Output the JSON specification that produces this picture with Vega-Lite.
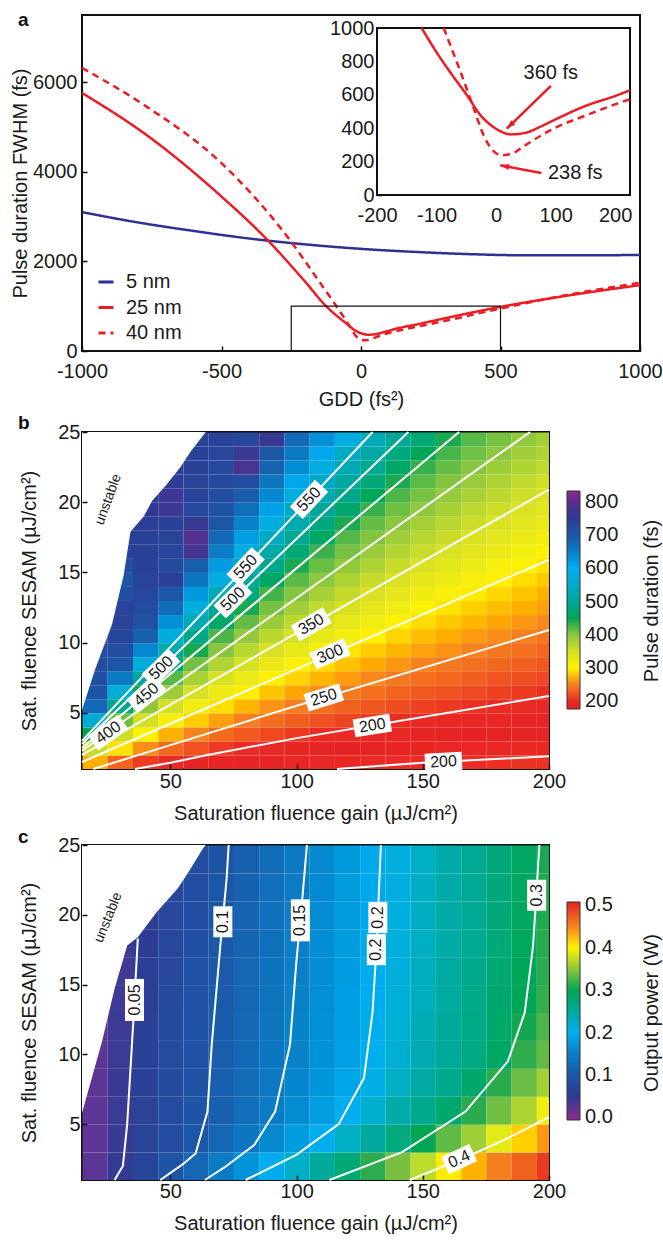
{
"$schema": "https://vega.github.io/schema/vega-lite/v6.json",
"padding": {"left": 9, "top": 10, "right": 2, "bottom": 0},
"spacing": 3,
"config": {
  "font": "Liberation Sans",
  "view": {"stroke": "#111", "strokeWidth": 2},
  "axis": {"labelFont": "Liberation Sans", "labelFontSize": 20, "labelColor": "#1a1a1a", "titleFont": "Liberation Sans", "titleFontSize": 20, "titleFontWeight": "normal", "titleColor": "#1a1a1a", "tickColor": "#111", "tickSize": -5, "tickWidth": 1.5, "domain": false, "grid": false, "labelFlush": false, "labelOverlap": false},
  "legend": {"labelFont": "Liberation Sans", "labelFontSize": 20, "labelColor": "#1a1a1a"},
  "title": {"font": "Liberation Sans", "fontSize": 19, "fontWeight": "bold", "anchor": "start", "frame": "group", "dx": -64, "baseline": "alphabetic", "color": "#111"}
},
"resolve": {"scale": {"color": "independent", "strokeDash": "independent"}, "legend": {"color": "independent", "strokeDash": "independent"}},
"datasets": {
  "curves": [
    {"gdd": -1000, "fwhm": 3100, "width": "5 nm"}, {"gdd": -800, "fwhm": 2870, "width": "5 nm"}, {"gdd": -600, "fwhm": 2680, "width": "5 nm"}, {"gdd": -400, "fwhm": 2510, "width": "5 nm"}, {"gdd": -200, "fwhm": 2380, "width": "5 nm"}, {"gdd": 0, "fwhm": 2280, "width": "5 nm"}, {"gdd": 200, "fwhm": 2210, "width": "5 nm"}, {"gdd": 400, "fwhm": 2160, "width": "5 nm"}, {"gdd": 600, "fwhm": 2135, "width": "5 nm"}, {"gdd": 800, "fwhm": 2135, "width": "5 nm"}, {"gdd": 1000, "fwhm": 2145, "width": "5 nm"},
    {"gdd": -1000, "fwhm": 5760, "width": "25 nm"}, {"gdd": -770, "fwhm": 4827, "width": "25 nm"}, {"gdd": -500, "fwhm": 3447, "width": "25 nm"}, {"gdd": -335, "fwhm": 2477, "width": "25 nm"}, {"gdd": -200, "fwhm": 1545, "width": "25 nm"}, {"gdd": -125, "fwhm": 1000, "width": "25 nm"}, {"gdd": -100, "fwhm": 855, "width": "25 nm"}, {"gdd": -75, "fwhm": 725, "width": "25 nm"}, {"gdd": -50, "fwhm": 603, "width": "25 nm"}, {"gdd": -25, "fwhm": 473, "width": "25 nm"}, {"gdd": 0, "fwhm": 397, "width": "25 nm"}, {"gdd": 25, "fwhm": 363, "width": "25 nm"}, {"gdd": 50, "fwhm": 373, "width": "25 nm"}, {"gdd": 75, "fwhm": 410, "width": "25 nm"}, {"gdd": 100, "fwhm": 453, "width": "25 nm"}, {"gdd": 150, "fwhm": 533, "width": "25 nm"}, {"gdd": 200, "fwhm": 593, "width": "25 nm"}, {"gdd": 225, "fwhm": 627, "width": "25 nm"}, {"gdd": 500, "fwhm": 985, "width": "25 nm"}, {"gdd": 750, "fwhm": 1246, "width": "25 nm"}, {"gdd": 1000, "fwhm": 1470, "width": "25 nm"},
    {"gdd": -1000, "fwhm": 6319, "width": "40 nm"}, {"gdd": -770, "fwhm": 5461, "width": "40 nm"}, {"gdd": -500, "fwhm": 4193, "width": "40 nm"}, {"gdd": -255, "fwhm": 2477, "width": "40 nm"}, {"gdd": -150, "fwhm": 1553, "width": "40 nm"}, {"gdd": -88, "fwhm": 1000, "width": "40 nm"}, {"gdd": -75, "fwhm": 880, "width": "40 nm"}, {"gdd": -60, "fwhm": 740, "width": "40 nm"}, {"gdd": -40, "fwhm": 545, "width": "40 nm"}, {"gdd": -20, "fwhm": 350, "width": "40 nm"}, {"gdd": 0, "fwhm": 250, "width": "40 nm"}, {"gdd": 10, "fwhm": 238, "width": "40 nm"}, {"gdd": 25, "fwhm": 245, "width": "40 nm"}, {"gdd": 50, "fwhm": 300, "width": "40 nm"}, {"gdd": 75, "fwhm": 355, "width": "40 nm"}, {"gdd": 100, "fwhm": 403, "width": "40 nm"}, {"gdd": 150, "fwhm": 475, "width": "40 nm"}, {"gdd": 200, "fwhm": 543, "width": "40 nm"}, {"gdd": 225, "fwhm": 573, "width": "40 nm"}, {"gdd": 500, "fwhm": 947, "width": "40 nm"}, {"gdd": 750, "fwhm": 1265, "width": "40 nm"}, {"gdd": 1000, "fwhm": 1522, "width": "40 nm"}
  ],
  "arrows": [
    {"id": 1, "gdd": 92, "fwhm": 653, "gdd2": 18, "fwhm2": 397},
    {"id": 2, "gdd": 76, "fwhm": 132, "gdd2": 7, "fwhm2": 178}
  ],
  "notes": [
    {"t": "360 fs", "gdd": 92, "fwhm": 730},
    {"t": "238 fs", "gdd": 133, "fwhm": 133}
  ],
  "cellsB": [
    {"x":15,"y":1,"v":271},{"x":15,"y":2,"v":359},{"x":15,"y":3,"v":450},{"x":15,"y":4,"v":564},{"x":15,"y":5,"v":678},{"x":15,"y":6,"v":705},{"x":15,"y":7,"v":715},{"x":15,"y":8,"v":720},{"x":15,"y":9,"v":720},{"x":15,"y":10,"v":720},
    {"x":25,"y":1,"v":231},{"x":25,"y":2,"v":293},{"x":25,"y":3,"v":353},{"x":25,"y":4,"v":416},{"x":25,"y":5,"v":485},{"x":25,"y":6,"v":569},{"x":25,"y":7,"v":655},{"x":25,"y":8,"v":705},{"x":25,"y":9,"v":722},{"x":25,"y":10,"v":731},{"x":25,"y":11,"v":739},{"x":25,"y":12,"v":735},{"x":25,"y":13,"v":715},{"x":25,"y":14,"v":705},{"x":25,"y":15,"v":720},{"x":25,"y":16,"v":735},{"x":25,"y":17,"v":740},{"x":25,"y":18,"v":740},
    {"x":35,"y":1,"v":208},{"x":35,"y":2,"v":257},{"x":35,"y":3,"v":304},{"x":35,"y":4,"v":350},{"x":35,"y":5,"v":398},{"x":35,"y":6,"v":448},{"x":35,"y":7,"v":504},{"x":35,"y":8,"v":572},{"x":35,"y":9,"v":640},{"x":35,"y":10,"v":688},{"x":35,"y":11,"v":712},{"x":35,"y":12,"v":723},{"x":35,"y":13,"v":730},{"x":35,"y":14,"v":736},{"x":35,"y":15,"v":740},{"x":35,"y":16,"v":740},{"x":35,"y":17,"v":740},{"x":35,"y":18,"v":745},{"x":35,"y":19,"v":750},{"x":35,"y":20,"v":745},
    {"x":45,"y":1,"v":197},{"x":45,"y":2,"v":234},{"x":45,"y":3,"v":273},{"x":45,"y":4,"v":311},{"x":45,"y":5,"v":349},{"x":45,"y":6,"v":387},{"x":45,"y":7,"v":427},{"x":45,"y":8,"v":470},{"x":45,"y":9,"v":516},{"x":45,"y":10,"v":573},{"x":45,"y":11,"v":630},{"x":45,"y":12,"v":672},{"x":45,"y":13,"v":703},{"x":45,"y":14,"v":745},{"x":45,"y":15,"v":724},{"x":45,"y":16,"v":729},{"x":45,"y":17,"v":734},{"x":45,"y":18,"v":740},{"x":45,"y":19,"v":765},{"x":45,"y":20,"v":765},{"x":45,"y":21,"v":745},{"x":45,"y":22,"v":740},
    {"x":55,"y":1,"v":191},{"x":55,"y":2,"v":219},{"x":55,"y":3,"v":252},{"x":55,"y":4,"v":284},{"x":55,"y":5,"v":316},{"x":55,"y":6,"v":347},{"x":55,"y":7,"v":380},{"x":55,"y":8,"v":413},{"x":55,"y":9,"v":447},{"x":55,"y":10,"v":485},{"x":55,"y":11,"v":525},{"x":55,"y":12,"v":575},{"x":55,"y":13,"v":623},{"x":55,"y":14,"v":660},{"x":55,"y":15,"v":692},{"x":55,"y":16,"v":775},{"x":55,"y":17,"v":790},{"x":55,"y":18,"v":760},{"x":55,"y":19,"v":728},{"x":55,"y":20,"v":733},{"x":55,"y":21,"v":737},{"x":55,"y":22,"v":740},{"x":55,"y":23,"v":740},{"x":55,"y":24,"v":740},
    {"x":65,"y":1,"v":187},{"x":65,"y":2,"v":207},{"x":65,"y":3,"v":236},{"x":65,"y":4,"v":264},{"x":65,"y":5,"v":292},{"x":65,"y":6,"v":319},{"x":65,"y":7,"v":346},{"x":65,"y":8,"v":374},{"x":65,"y":9,"v":402},{"x":65,"y":10,"v":432},{"x":65,"y":11,"v":463},{"x":65,"y":12,"v":496},{"x":65,"y":13,"v":531},{"x":65,"y":14,"v":575},{"x":65,"y":15,"v":618},{"x":65,"y":16,"v":652},{"x":65,"y":17,"v":679},{"x":65,"y":18,"v":702},{"x":65,"y":19,"v":711},{"x":65,"y":20,"v":720},{"x":65,"y":21,"v":724},{"x":65,"y":22,"v":728},{"x":65,"y":23,"v":732},{"x":65,"y":24,"v":736},
    {"x":75,"y":1,"v":189},{"x":75,"y":2,"v":199},{"x":75,"y":3,"v":224},{"x":75,"y":4,"v":249},{"x":75,"y":5,"v":274},{"x":75,"y":6,"v":298},{"x":75,"y":7,"v":322},{"x":75,"y":8,"v":346},{"x":75,"y":9,"v":370},{"x":75,"y":10,"v":395},{"x":75,"y":11,"v":421},{"x":75,"y":12,"v":447},{"x":75,"y":13,"v":475},{"x":75,"y":14,"v":504},{"x":75,"y":15,"v":536},{"x":75,"y":16,"v":576},{"x":75,"y":17,"v":615},{"x":75,"y":18,"v":645},{"x":75,"y":19,"v":670},{"x":75,"y":20,"v":694},{"x":75,"y":21,"v":720},{"x":75,"y":22,"v":780},{"x":75,"y":23,"v":765},{"x":75,"y":24,"v":730},
    {"x":85,"y":1,"v":191},{"x":85,"y":2,"v":195},{"x":85,"y":3,"v":214},{"x":85,"y":4,"v":237},{"x":85,"y":5,"v":259},{"x":85,"y":6,"v":281},{"x":85,"y":7,"v":302},{"x":85,"y":8,"v":324},{"x":85,"y":9,"v":345},{"x":85,"y":10,"v":367},{"x":85,"y":11,"v":389},{"x":85,"y":12,"v":412},{"x":85,"y":13,"v":435},{"x":85,"y":14,"v":459},{"x":85,"y":15,"v":485},{"x":85,"y":16,"v":512},{"x":85,"y":17,"v":540},{"x":85,"y":18,"v":577},{"x":85,"y":19,"v":612},{"x":85,"y":20,"v":638},{"x":85,"y":21,"v":662},{"x":85,"y":22,"v":684},{"x":85,"y":23,"v":702},{"x":85,"y":24,"v":760},
    {"x":95,"y":1,"v":193},{"x":95,"y":2,"v":191},{"x":95,"y":3,"v":206},{"x":95,"y":4,"v":227},{"x":95,"y":5,"v":248},{"x":95,"y":6,"v":267},{"x":95,"y":7,"v":287},{"x":95,"y":8,"v":306},{"x":95,"y":9,"v":325},{"x":95,"y":10,"v":345},{"x":95,"y":11,"v":365},{"x":95,"y":12,"v":384},{"x":95,"y":13,"v":405},{"x":95,"y":14,"v":426},{"x":95,"y":15,"v":446},{"x":95,"y":16,"v":470},{"x":95,"y":17,"v":493},{"x":95,"y":18,"v":517},{"x":95,"y":19,"v":543},{"x":95,"y":20,"v":577},{"x":95,"y":21,"v":609},{"x":95,"y":22,"v":633},{"x":95,"y":23,"v":656},{"x":95,"y":24,"v":676},
    {"x":105,"y":1,"v":195},{"x":105,"y":2,"v":189},{"x":105,"y":3,"v":200},{"x":105,"y":4,"v":219},{"x":105,"y":5,"v":238},{"x":105,"y":6,"v":256},{"x":105,"y":7,"v":274},{"x":105,"y":8,"v":291},{"x":105,"y":9,"v":309},{"x":105,"y":10,"v":327},{"x":105,"y":11,"v":345},{"x":105,"y":12,"v":362},{"x":105,"y":13,"v":381},{"x":105,"y":14,"v":399},{"x":105,"y":15,"v":418},{"x":105,"y":16,"v":437},{"x":105,"y":17,"v":457},{"x":105,"y":18,"v":478},{"x":105,"y":19,"v":499},{"x":105,"y":20,"v":522},{"x":105,"y":21,"v":545},{"x":105,"y":22,"v":577},{"x":105,"y":23,"v":607},{"x":105,"y":24,"v":630},
    {"x":115,"y":1,"v":196},{"x":115,"y":2,"v":186},{"x":115,"y":3,"v":197},{"x":115,"y":4,"v":212},{"x":115,"y":5,"v":229},{"x":115,"y":6,"v":246},{"x":115,"y":7,"v":263},{"x":115,"y":8,"v":279},{"x":115,"y":9,"v":295},{"x":115,"y":10,"v":312},{"x":115,"y":11,"v":328},{"x":115,"y":12,"v":344},{"x":115,"y":13,"v":361},{"x":115,"y":14,"v":377},{"x":115,"y":15,"v":394},{"x":115,"y":16,"v":411},{"x":115,"y":17,"v":429},{"x":115,"y":18,"v":446},{"x":115,"y":19,"v":465},{"x":115,"y":20,"v":485},{"x":115,"y":21,"v":505},{"x":115,"y":22,"v":526},{"x":115,"y":23,"v":548},{"x":115,"y":24,"v":578},
    {"x":125,"y":1,"v":198},{"x":125,"y":2,"v":188},{"x":125,"y":3,"v":194},{"x":125,"y":4,"v":206},{"x":125,"y":5,"v":222},{"x":125,"y":6,"v":238},{"x":125,"y":7,"v":254},{"x":125,"y":8,"v":269},{"x":125,"y":9,"v":284},{"x":125,"y":10,"v":299},{"x":125,"y":11,"v":314},{"x":125,"y":12,"v":329},{"x":125,"y":13,"v":344},{"x":125,"y":14,"v":359},{"x":125,"y":15,"v":375},{"x":125,"y":16,"v":390},{"x":125,"y":17,"v":406},{"x":125,"y":18,"v":422},{"x":125,"y":19,"v":438},{"x":125,"y":20,"v":455},{"x":125,"y":21,"v":473},{"x":125,"y":22,"v":491},{"x":125,"y":23,"v":510},{"x":125,"y":24,"v":529},
    {"x":135,"y":1,"v":199},{"x":135,"y":2,"v":189},{"x":135,"y":3,"v":192},{"x":135,"y":4,"v":201},{"x":135,"y":5,"v":216},{"x":135,"y":6,"v":231},{"x":135,"y":7,"v":245},{"x":135,"y":8,"v":260},{"x":135,"y":9,"v":274},{"x":135,"y":10,"v":288},{"x":135,"y":11,"v":302},{"x":135,"y":12,"v":316},{"x":135,"y":13,"v":330},{"x":135,"y":14,"v":344},{"x":135,"y":15,"v":358},{"x":135,"y":16,"v":372},{"x":135,"y":17,"v":386},{"x":135,"y":18,"v":401},{"x":135,"y":19,"v":416},{"x":135,"y":20,"v":431},{"x":135,"y":21,"v":446},{"x":135,"y":22,"v":463},{"x":135,"y":23,"v":479},{"x":135,"y":24,"v":496},
    {"x":145,"y":1,"v":200},{"x":145,"y":2,"v":191},{"x":145,"y":3,"v":190},{"x":145,"y":4,"v":198},{"x":145,"y":5,"v":210},{"x":145,"y":6,"v":224},{"x":145,"y":7,"v":238},{"x":145,"y":8,"v":252},{"x":145,"y":9,"v":265},{"x":145,"y":10,"v":278},{"x":145,"y":11,"v":291},{"x":145,"y":12,"v":304},{"x":145,"y":13,"v":317},{"x":145,"y":14,"v":330},{"x":145,"y":15,"v":343},{"x":145,"y":16,"v":357},{"x":145,"y":17,"v":370},{"x":145,"y":18,"v":383},{"x":145,"y":19,"v":397},{"x":145,"y":20,"v":411},{"x":145,"y":21,"v":425},{"x":145,"y":22,"v":439},{"x":145,"y":23,"v":453},{"x":145,"y":24,"v":469},
    {"x":155,"y":1,"v":201},{"x":155,"y":2,"v":192},{"x":155,"y":3,"v":188},{"x":155,"y":4,"v":196},{"x":155,"y":5,"v":206},{"x":155,"y":6,"v":219},{"x":155,"y":7,"v":232},{"x":155,"y":8,"v":245},{"x":155,"y":9,"v":258},{"x":155,"y":10,"v":270},{"x":155,"y":11,"v":282},{"x":155,"y":12,"v":294},{"x":155,"y":13,"v":307},{"x":155,"y":14,"v":319},{"x":155,"y":15,"v":331},{"x":155,"y":16,"v":343},{"x":155,"y":17,"v":356},{"x":155,"y":18,"v":368},{"x":155,"y":19,"v":381},{"x":155,"y":20,"v":393},{"x":155,"y":21,"v":406},{"x":155,"y":22,"v":420},{"x":155,"y":23,"v":433},{"x":155,"y":24,"v":446},
    {"x":165,"y":1,"v":201},{"x":165,"y":2,"v":193},{"x":165,"y":3,"v":186},{"x":165,"y":4,"v":194},{"x":165,"y":5,"v":202},{"x":165,"y":6,"v":214},{"x":165,"y":7,"v":227},{"x":165,"y":8,"v":239},{"x":165,"y":9,"v":251},{"x":165,"y":10,"v":262},{"x":165,"y":11,"v":274},{"x":165,"y":12,"v":285},{"x":165,"y":13,"v":297},{"x":165,"y":14,"v":309},{"x":165,"y":15,"v":320},{"x":165,"y":16,"v":332},{"x":165,"y":17,"v":343},{"x":165,"y":18,"v":355},{"x":165,"y":19,"v":366},{"x":165,"y":20,"v":378},{"x":165,"y":21,"v":390},{"x":165,"y":22,"v":402},{"x":165,"y":23,"v":415},{"x":165,"y":24,"v":427},
    {"x":175,"y":1,"v":202},{"x":175,"y":2,"v":194},{"x":175,"y":3,"v":187},{"x":175,"y":4,"v":192},{"x":175,"y":5,"v":199},{"x":175,"y":6,"v":210},{"x":175,"y":7,"v":221},{"x":175,"y":8,"v":233},{"x":175,"y":9,"v":244},{"x":175,"y":10,"v":256},{"x":175,"y":11,"v":267},{"x":175,"y":12,"v":278},{"x":175,"y":13,"v":289},{"x":175,"y":14,"v":299},{"x":175,"y":15,"v":310},{"x":175,"y":16,"v":321},{"x":175,"y":17,"v":332},{"x":175,"y":18,"v":343},{"x":175,"y":19,"v":354},{"x":175,"y":20,"v":365},{"x":175,"y":21,"v":377},{"x":175,"y":22,"v":388},{"x":175,"y":23,"v":399},{"x":175,"y":24,"v":411},
    {"x":185,"y":1,"v":203},{"x":185,"y":2,"v":195},{"x":185,"y":3,"v":188},{"x":185,"y":4,"v":190},{"x":185,"y":5,"v":197},{"x":185,"y":6,"v":206},{"x":185,"y":7,"v":217},{"x":185,"y":8,"v":228},{"x":185,"y":9,"v":239},{"x":185,"y":10,"v":250},{"x":185,"y":11,"v":260},{"x":185,"y":12,"v":271},{"x":185,"y":13,"v":281},{"x":185,"y":14,"v":291},{"x":185,"y":15,"v":302},{"x":185,"y":16,"v":312},{"x":185,"y":17,"v":322},{"x":185,"y":18,"v":333},{"x":185,"y":19,"v":343},{"x":185,"y":20,"v":353},{"x":185,"y":21,"v":364},{"x":185,"y":22,"v":374},{"x":185,"y":23,"v":385},{"x":185,"y":24,"v":396},
    {"x":195,"y":1,"v":203},{"x":195,"y":2,"v":196},{"x":195,"y":3,"v":190},{"x":195,"y":4,"v":189},{"x":195,"y":5,"v":195},{"x":195,"y":6,"v":202},{"x":195,"y":7,"v":213},{"x":195,"y":8,"v":223},{"x":195,"y":9,"v":233},{"x":195,"y":10,"v":244},{"x":195,"y":11,"v":254},{"x":195,"y":12,"v":264},{"x":195,"y":13,"v":273},{"x":195,"y":14,"v":283},{"x":195,"y":15,"v":293},{"x":195,"y":16,"v":303},{"x":195,"y":17,"v":312},{"x":195,"y":18,"v":322},{"x":195,"y":19,"v":332},{"x":195,"y":20,"v":342},{"x":195,"y":21,"v":353},{"x":195,"y":22,"v":363},{"x":195,"y":23,"v":373},{"x":195,"y":24,"v":383}
  ],
  "edgeB": [{"x":15,"y":5.2},{"x":20,"y":8.0},{"x":26.9,"y":11.3},{"x":31.5,"y":14.8},{"x":34.2,"y":17.9},{"x":39.5,"y":19.0},{"x":42.8,"y":20.1},{"x":48.7,"y":21.3},{"x":54,"y":22.5},{"x":58,"y":23.6},{"x":63.2,"y":24.8},{"x":64,"y":25}],
  "linesB": [
    {"id":"200a","x":116,"y":1.0},{"id":"200a","x":150,"y":1.45},{"id":"200a","x":200,"y":1.9},
    {"id":"200b","x":36,"y":1.0},{"id":"200b","x":50,"y":1.45},{"id":"200b","x":64.7,"y":2.0},{"id":"200b","x":100,"y":3.2},{"id":"200b","x":150,"y":4.7},{"id":"200b","x":200,"y":6.2},
    {"id":"250","x":19.5,"y":1.0},{"id":"250","x":50,"y":2.7},{"id":"250","x":100,"y":5.5},{"id":"250","x":150,"y":8.2},{"id":"250","x":200,"y":10.9},
    {"id":"300","x":15,"y":1.5},{"id":"300","x":200,"y":15.9},
    {"id":"350","x":15,"y":2.0},{"id":"350","x":200,"y":20.9},
    {"id":"400","x":15,"y":2.3},{"id":"400","x":192.5,"y":25},
    {"id":"450","x":15,"y":2.5},{"id":"450","x":164.4,"y":25},
    {"id":"500","x":15,"y":2.8},{"id":"500","x":144.3,"y":25},
    {"id":"550","x":15,"y":3.0},{"id":"550","x":130.1,"y":25}
  ],
  "labelsB": [
    {"t":"550","x":104.9,"y":20.2,"rot":-47},{"t":"550","x":79.8,"y":15.4,"rot":-47},{"t":"500","x":74.8,"y":13.1,"rot":-44},{"t":"500","x":46.3,"y":8.2,"rot":-44},{"t":"450","x":40.5,"y":6.3,"rot":-40},{"t":"400","x":25.4,"y":3.6,"rot":-35},{"t":"350","x":105.8,"y":11.3,"rot":-30},{"t":"300","x":113.3,"y":9.2,"rot":-23},{"t":"250","x":110.8,"y":6.1,"rot":-17},{"t":"200","x":130,"y":4.1,"rot":-9},{"t":"200","x":158.2,"y":1.52,"rot":-3}
  ],
  "cellsC": [
    {"x":15,"y":1,"v":0.026},{"x":15,"y":3,"v":0.025},{"x":15,"y":5,"v":0.025},{"x":15,"y":7,"v":0.025},{"x":15,"y":9,"v":0.025},{"x":15,"y":11,"v":0.025},
    {"x":25,"y":1,"v":0.048},{"x":25,"y":3,"v":0.045},{"x":25,"y":5,"v":0.044},{"x":25,"y":7,"v":0.045},{"x":25,"y":9,"v":0.044},{"x":25,"y":11,"v":0.043},{"x":25,"y":13,"v":0.042},{"x":25,"y":15,"v":0.041},{"x":25,"y":17,"v":0.040},
    {"x":35,"y":1,"v":0.069},{"x":35,"y":3,"v":0.063},{"x":35,"y":5,"v":0.061},{"x":35,"y":7,"v":0.060},{"x":35,"y":9,"v":0.059},{"x":35,"y":11,"v":0.058},{"x":35,"y":13,"v":0.057},{"x":35,"y":15,"v":0.056},{"x":35,"y":17,"v":0.054},{"x":35,"y":19,"v":0.053},
    {"x":45,"y":1,"v":0.091},{"x":45,"y":3,"v":0.080},{"x":45,"y":5,"v":0.077},{"x":45,"y":7,"v":0.076},{"x":45,"y":9,"v":0.075},{"x":45,"y":11,"v":0.074},{"x":45,"y":13,"v":0.073},{"x":45,"y":15,"v":0.071},{"x":45,"y":17,"v":0.070},{"x":45,"y":19,"v":0.068},{"x":45,"y":21,"v":0.067},
    {"x":55,"y":1,"v":0.118},{"x":55,"y":3,"v":0.097},{"x":55,"y":5,"v":0.093},{"x":55,"y":7,"v":0.091},{"x":55,"y":9,"v":0.090},{"x":55,"y":11,"v":0.090},{"x":55,"y":13,"v":0.088},{"x":55,"y":15,"v":0.087},{"x":55,"y":17,"v":0.085},{"x":55,"y":19,"v":0.083},{"x":55,"y":21,"v":0.082},{"x":55,"y":23,"v":0.080},
    {"x":65,"y":1,"v":0.147},{"x":65,"y":3,"v":0.118},{"x":65,"y":5,"v":0.110},{"x":65,"y":7,"v":0.108},{"x":65,"y":9,"v":0.106},{"x":65,"y":11,"v":0.105},{"x":65,"y":13,"v":0.104},{"x":65,"y":15,"v":0.102},{"x":65,"y":17,"v":0.100},{"x":65,"y":19,"v":0.098},{"x":65,"y":21,"v":0.097},{"x":65,"y":23,"v":0.095},
    {"x":75,"y":1,"v":0.173},{"x":75,"y":3,"v":0.139},{"x":75,"y":5,"v":0.129},{"x":75,"y":7,"v":0.125},{"x":75,"y":9,"v":0.123},{"x":75,"y":11,"v":0.121},{"x":75,"y":13,"v":0.120},{"x":75,"y":15,"v":0.118},{"x":75,"y":17,"v":0.117},{"x":75,"y":19,"v":0.115},{"x":75,"y":21,"v":0.113},{"x":75,"y":23,"v":0.112},
    {"x":85,"y":1,"v":0.198},{"x":85,"y":3,"v":0.161},{"x":85,"y":5,"v":0.147},{"x":85,"y":7,"v":0.142},{"x":85,"y":9,"v":0.139},{"x":85,"y":11,"v":0.138},{"x":85,"y":13,"v":0.137},{"x":85,"y":15,"v":0.134},{"x":85,"y":17,"v":0.133},{"x":85,"y":19,"v":0.132},{"x":85,"y":21,"v":0.129},{"x":85,"y":23,"v":0.128},
    {"x":95,"y":1,"v":0.225},{"x":95,"y":3,"v":0.181},{"x":95,"y":5,"v":0.165},{"x":95,"y":7,"v":0.159},{"x":95,"y":9,"v":0.155},{"x":95,"y":11,"v":0.154},{"x":95,"y":13,"v":0.153},{"x":95,"y":15,"v":0.151},{"x":95,"y":17,"v":0.150},{"x":95,"y":19,"v":0.148},{"x":95,"y":21,"v":0.146},{"x":95,"y":23,"v":0.144},
    {"x":105,"y":1,"v":0.253},{"x":105,"y":3,"v":0.202},{"x":105,"y":5,"v":0.183},{"x":105,"y":7,"v":0.175},{"x":105,"y":9,"v":0.171},{"x":105,"y":11,"v":0.169},{"x":105,"y":13,"v":0.168},{"x":105,"y":15,"v":0.166},{"x":105,"y":17,"v":0.166},{"x":105,"y":19,"v":0.164},{"x":105,"y":21,"v":0.162},{"x":105,"y":23,"v":0.161},
    {"x":115,"y":1,"v":0.280},{"x":115,"y":3,"v":0.226},{"x":115,"y":5,"v":0.201},{"x":115,"y":7,"v":0.191},{"x":115,"y":9,"v":0.187},{"x":115,"y":11,"v":0.185},{"x":115,"y":13,"v":0.184},{"x":115,"y":15,"v":0.182},{"x":115,"y":17,"v":0.181},{"x":115,"y":19,"v":0.180},{"x":115,"y":21,"v":0.179},{"x":115,"y":23,"v":0.178},
    {"x":125,"y":1,"v":0.308},{"x":125,"y":3,"v":0.250},{"x":125,"y":5,"v":0.221},{"x":125,"y":7,"v":0.208},{"x":125,"y":9,"v":0.203},{"x":125,"y":11,"v":0.201},{"x":125,"y":13,"v":0.199},{"x":125,"y":15,"v":0.198},{"x":125,"y":17,"v":0.197},{"x":125,"y":19,"v":0.196},{"x":125,"y":21,"v":0.195},{"x":125,"y":23,"v":0.195},
    {"x":135,"y":1,"v":0.340},{"x":135,"y":3,"v":0.274},{"x":135,"y":5,"v":0.242},{"x":135,"y":7,"v":0.227},{"x":135,"y":9,"v":0.220},{"x":135,"y":11,"v":0.218},{"x":135,"y":13,"v":0.216},{"x":135,"y":15,"v":0.214},{"x":135,"y":17,"v":0.213},{"x":135,"y":19,"v":0.212},{"x":135,"y":21,"v":0.212},{"x":135,"y":23,"v":0.211},
    {"x":145,"y":1,"v":0.372},{"x":145,"y":3,"v":0.299},{"x":145,"y":5,"v":0.263},{"x":145,"y":7,"v":0.246},{"x":145,"y":9,"v":0.238},{"x":145,"y":11,"v":0.235},{"x":145,"y":13,"v":0.232},{"x":145,"y":15,"v":0.231},{"x":145,"y":17,"v":0.229},{"x":145,"y":19,"v":0.228},{"x":145,"y":21,"v":0.228},{"x":145,"y":23,"v":0.227},
    {"x":155,"y":1,"v":0.403},{"x":155,"y":3,"v":0.329},{"x":155,"y":5,"v":0.284},{"x":155,"y":7,"v":0.266},{"x":155,"y":9,"v":0.255},{"x":155,"y":11,"v":0.252},{"x":155,"y":13,"v":0.248},{"x":155,"y":15,"v":0.247},{"x":155,"y":17,"v":0.245},{"x":155,"y":19,"v":0.244},{"x":155,"y":21,"v":0.243},{"x":155,"y":23,"v":0.243},
    {"x":165,"y":1,"v":0.428},{"x":165,"y":3,"v":0.359},{"x":165,"y":5,"v":0.307},{"x":165,"y":7,"v":0.285},{"x":165,"y":9,"v":0.273},{"x":165,"y":11,"v":0.268},{"x":165,"y":13,"v":0.265},{"x":165,"y":15,"v":0.263},{"x":165,"y":17,"v":0.261},{"x":165,"y":19,"v":0.260},{"x":165,"y":21,"v":0.260},{"x":165,"y":23,"v":0.259},
    {"x":175,"y":1,"v":0.452},{"x":175,"y":3,"v":0.389},{"x":175,"y":5,"v":0.336},{"x":175,"y":7,"v":0.307},{"x":175,"y":9,"v":0.290},{"x":175,"y":11,"v":0.285},{"x":175,"y":13,"v":0.282},{"x":175,"y":15,"v":0.280},{"x":175,"y":17,"v":0.278},{"x":175,"y":19,"v":0.277},{"x":175,"y":21,"v":0.276},{"x":175,"y":23,"v":0.275},
    {"x":185,"y":1,"v":0.474},{"x":185,"y":3,"v":0.415},{"x":185,"y":5,"v":0.365},{"x":185,"y":7,"v":0.333},{"x":185,"y":9,"v":0.309},{"x":185,"y":11,"v":0.302},{"x":185,"y":13,"v":0.298},{"x":185,"y":15,"v":0.296},{"x":185,"y":17,"v":0.294},{"x":185,"y":19,"v":0.293},{"x":185,"y":21,"v":0.292},{"x":185,"y":23,"v":0.291},
    {"x":195,"y":1,"v":0.497},{"x":195,"y":3,"v":0.440},{"x":195,"y":5,"v":0.395},{"x":195,"y":7,"v":0.360},{"x":195,"y":9,"v":0.330},{"x":195,"y":11,"v":0.320},{"x":195,"y":13,"v":0.310},{"x":195,"y":15,"v":0.308},{"x":195,"y":17,"v":0.306},{"x":195,"y":19,"v":0.305},{"x":195,"y":21,"v":0.304},{"x":195,"y":23,"v":0.303}
  ],
  "edgeC": [{"x":15,"y":5.8},{"x":22.9,"y":10.9},{"x":27.9,"y":14.7},{"x":32.9,"y":17.8},{"x":37.1,"y":18.4},{"x":44.6,"y":20.2},{"x":53,"y":21.9},{"x":58,"y":23.3},{"x":63.1,"y":24.8},{"x":64,"y":25}],
  "linesC": [
    {"id":"0.05","x":27.9,"y":1.0},{"id":"0.05","x":31.2,"y":2.0},{"id":"0.05","x":32.9,"y":5.0},{"id":"0.05","x":35.4,"y":12.6},{"id":"0.05","x":37.1,"y":18.3},
    {"id":"0.1","x":46,"y":1.0},{"id":"0.1","x":54.7,"y":2.1},{"id":"0.1","x":60,"y":2.9},{"id":"0.1","x":64.7,"y":5.9},{"id":"0.1","x":66.4,"y":10.7},{"id":"0.1","x":69.8,"y":17.8},{"id":"0.1","x":72.3,"y":22.6},{"id":"0.1","x":73.1,"y":25},
    {"id":"0.15","x":63.7,"y":1.0},{"id":"0.15","x":71.4,"y":1.9},{"id":"0.15","x":83.2,"y":3.5},{"id":"0.15","x":91.5,"y":5.9},{"id":"0.15","x":97.4,"y":10.7},{"id":"0.15","x":99.9,"y":16.6},{"id":"0.15","x":102.4,"y":21.4},{"id":"0.15","x":104.1,"y":25},
    {"id":"0.2","x":79.8,"y":1.0},{"id":"0.2","x":99.9,"y":2.8},{"id":"0.2","x":116.7,"y":5.0},{"id":"0.2","x":126.7,"y":8.3},{"id":"0.2","x":130.1,"y":13.0},{"id":"0.2","x":131.7,"y":17.8},{"id":"0.2","x":133.4,"y":25},
    {"id":"0.3","x":113,"y":1.0},{"id":"0.3","x":141.8,"y":3.0},{"id":"0.3","x":166.9,"y":5.9},{"id":"0.3","x":183.7,"y":9.5},{"id":"0.3","x":190.4,"y":13.0},{"id":"0.3","x":193.7,"y":17.8},{"id":"0.3","x":196.2,"y":25},
    {"id":"0.4","x":144.8,"y":1.0},{"id":"0.4","x":166.9,"y":2.6},{"id":"0.4","x":183.7,"y":4.0},{"id":"0.4","x":200,"y":5.5}
  ],
  "labelsC": [
    {"t":"0.05","x":35.8,"y":13.9,"rot":-90},{"t":"0.1","x":70.8,"y":19.5,"rot":-90},{"t":"0.15","x":101.5,"y":19.6,"rot":-90},{"t":"0.2","x":132.2,"y":19.8,"rot":-90},{"t":"0.2","x":131.6,"y":17.5,"rot":-90},{"t":"0.3","x":195.1,"y":21.4,"rot":-90},{"t":"0.4","x":164.4,"y":2.5,"rot":-25}
  ]
},
"vconcat": [
  {
    "title": {"text": "a", "dy": 6, "offset": -9},
    "width": 558, "height": 336,
    "resolve": {"scale": {"x": "independent", "y": "independent"}},
    "layer": [
      {
        "layer": [
          {
            "data": {"name": "curves"},
            "mark": {"type": "line", "strokeWidth": 2.5, "interpolate": "monotone"},
            "encoding": {
              "x": {"field": "gdd", "type": "quantitative", "scale": {"domain": [-1000, 1000], "nice": false, "zero": false}, "axis": {"title": "GDD (fs²)", "values": [-1000, -500, 0, 500, 1000], "labelExpr": "'' + datum.value", "labelPadding": 15, "titlePadding": 8}},
              "y": {"field": "fwhm", "type": "quantitative", "scale": {"domain": [0, 7500], "nice": false}, "axis": {"title": "Pulse duration FWHM (fs)", "values": [0, 2000, 4000, 6000], "labelExpr": "'' + datum.value", "labelPadding": 10, "titlePadding": 2}},
              "color": {"field": "width", "type": "nominal", "scale": {"domain": ["5 nm", "25 nm", "40 nm"], "range": ["#2e3192", "#ed1c24", "#ed1c24"]}, "legend": {"orient": "none", "legendX": 14, "legendY": 257, "title": null, "symbolType": "stroke", "symbolSize": 225, "symbolStrokeWidth": 3, "rowPadding": 5.5, "labelOffset": 10, "labelFontSize": 20}},
              "strokeDash": {"field": "width", "type": "nominal", "scale": {"domain": ["5 nm", "25 nm", "40 nm"], "range": [[1, 0], [1, 0], [7, 5]]}, "legend": {"orient": "none", "legendX": 14, "legendY": 257, "title": null, "symbolType": "stroke", "symbolSize": 225, "symbolStrokeWidth": 3, "rowPadding": 5.5, "labelOffset": 10, "labelFontSize": 20}}
            }
          },
          {
            "data": {"values": [{}]},
            "mark": {"type": "rect", "fillOpacity": 0, "stroke": "#111", "strokeWidth": 1.2},
            "encoding": {
              "x": {"datum": -250, "type": "quantitative"}, "x2": {"datum": 500},
              "y": {"datum": 0, "type": "quantitative"}, "y2": {"datum": 1000}
            }
          }
        ]
      },
      {
        "layer": [
          {
            "data": {"values": [{}]},
            "mark": {"type": "rect", "fill": "white", "stroke": "#111", "strokeWidth": 2},
            "encoding": {
              "x": {"datum": -200, "type": "quantitative", "scale": {"domain": [-200, 225], "range": [295, 548], "nice": false, "zero": false}, "axis": {"orient": "bottom", "offset": -156, "values": [-200, -100, 0, 100, 200], "labelExpr": "'' + datum.value", "labelPadding": 15, "title": null}},
              "x2": {"datum": 225},
              "y": {"datum": 0, "type": "quantitative", "scale": {"domain": [0, 1000], "range": [180, 13], "nice": false}, "axis": {"orient": "left", "offset": -295, "values": [0, 200, 400, 600, 800, 1000], "labelExpr": "'' + datum.value", "labelPadding": 8, "title": null}},
              "y2": {"datum": 1000}
            }
          },
          {
            "data": {"name": "curves"},
            "transform": [{"filter": "datum.fwhm <= 1000 && datum.gdd >= -200 && datum.gdd <= 225"}],
            "mark": {"type": "line", "strokeWidth": 2.5, "interpolate": "monotone"},
            "encoding": {
              "x": {"field": "gdd", "type": "quantitative"},
              "y": {"field": "fwhm", "type": "quantitative"},
              "color": {"field": "width", "type": "nominal"},
              "strokeDash": {"field": "width", "type": "nominal"}
            }
          },
          {
            "data": {"name": "arrows"},
            "mark": {"type": "rule", "color": "#ed1c24", "strokeWidth": 2.5},
            "encoding": {
              "x": {"field": "gdd", "type": "quantitative"}, "y": {"field": "fwhm", "type": "quantitative"},
              "x2": {"field": "gdd2"}, "y2": {"field": "fwhm2"}
            }
          },
          {
            "data": {"name": "arrows"},
            "transform": [{"filter": "datum.id == 1"}],
            "mark": {"type": "point", "shape": "M0,0L0.6,1.8L-0.6,1.8Z", "filled": true, "color": "#ed1c24", "opacity": 1, "size": 100, "angle": 226},
            "encoding": {"x": {"field": "gdd2", "type": "quantitative"}, "y": {"field": "fwhm2", "type": "quantitative"}}
          },
          {
            "data": {"name": "arrows"},
            "transform": [{"filter": "datum.id == 2"}],
            "mark": {"type": "point", "shape": "M0,0L0.6,1.8L-0.6,1.8Z", "filled": true, "color": "#ed1c24", "opacity": 1, "size": 100, "angle": 281},
            "encoding": {"x": {"field": "gdd2", "type": "quantitative"}, "y": {"field": "fwhm2", "type": "quantitative"}}
          },
          {
            "data": {"name": "notes"},
            "mark": {"type": "text", "fontSize": 20, "color": "#1a1a1a"},
            "encoding": {"x": {"field": "gdd", "type": "quantitative"}, "y": {"field": "fwhm", "type": "quantitative"}, "text": {"field": "t"}}
          }
        ]
      }
    ]
  },
  {
    "title": {"text": "b", "dy": 1, "offset": -10},
    "width": 467, "height": 337,
    "resolve": {"scale": {"y": "independent"}},
    "layer": [
      {
        "layer": [
          {
            "data": {"name": "cellsB"},
            "mark": {"type": "rect", "clip": true},
            "encoding": {
              "x": {"field": "x", "type": "quantitative", "bin": {"binned": true, "step": 10}, "scale": {"domain": [15, 200], "nice": false, "zero": false}, "axis": {"title": "Saturation fluence gain (µJ/cm²)", "values": [50, 100, 150, 200], "labelPadding": 7, "titlePadding": 12}},
              "y": {"field": "y", "type": "quantitative", "bin": {"binned": true, "step": 1}, "scale": {"domain": [1, 25], "nice": false, "zero": false}, "axis": {"title": "Sat. fluence SESAM (µJ/cm²)", "values": [5, 10, 15, 20, 25], "labelPadding": 7, "titlePadding": 18}},
              "color": {"field": "v", "type": "quantitative",
                "scale": {"domain": [177, 200, 250, 300, 350, 400, 425, 450, 500, 550, 600, 650, 700, 750, 800, 833], "range": ["#e31e24", "#ea2a24", "#f57f20", "#fff200", "#d4df25", "#8dc63f", "#5cbb46", "#00a651", "#00a79a", "#00aac9", "#00aeef", "#0a7ec6", "#1b58a7", "#2e3b93", "#5a2d8f", "#8c2a8e"]},
                "legend": {"orient": "none", "legendX": 485, "legendY": 59, "title": null, "direction": "vertical", "gradientLength": 218, "gradientThickness": 13, "gradientStrokeColor": "#333", "gradientStrokeWidth": 1, "values": [200, 300, 400, 500, 600, 700, 800], "labelOffset": 5, "labelFontSize": 20}}
            }
          },
          {
            "data": {"name": "edgeB"},
            "mark": {"type": "area", "color": "white", "opacity": 1},
            "encoding": {"x": {"field": "x", "type": "quantitative"}, "y": {"field": "y", "type": "quantitative"}, "y2": {"datum": 25}}
          },
          {
            "data": {"name": "linesB"},
            "mark": {"type": "line", "color": "white", "strokeWidth": 2},
            "encoding": {"x": {"field": "x", "type": "quantitative"}, "y": {"field": "y", "type": "quantitative"}, "detail": {"field": "id"}}
          },
          {
            "data": {"name": "labelsB"},
            "mark": {"type": "point", "shape": "M-1,-0.486H1V0.486H-1Z", "filled": true, "color": "white", "opacity": 1, "size": 1369},
            "encoding": {"x": {"field": "x", "type": "quantitative"}, "y": {"field": "y", "type": "quantitative"}, "angle": {"field": "rot", "type": "quantitative", "scale": null}}
          },
          {
            "data": {"name": "labelsB"},
            "mark": {"type": "text", "fontSize": 16, "color": "#1a1a1a"},
            "encoding": {"x": {"field": "x", "type": "quantitative"}, "y": {"field": "y", "type": "quantitative"}, "text": {"field": "t"}, "angle": {"field": "rot", "type": "quantitative", "scale": null}}
          },
          {
            "data": {"values": [{"t": "unstable", "x": 25.4, "y": 20.2}]},
            "mark": {"type": "text", "fontSize": 14, "angle": 290, "color": "#1a1a1a"},
            "encoding": {"x": {"field": "x", "type": "quantitative"}, "y": {"field": "y", "type": "quantitative"}, "text": {"field": "t"}}
          }
        ]
      },
      {
        "data": {"values": [{}]},
        "mark": {"type": "point", "opacity": 0},
        "encoding": {"y": {"datum": 0.5, "type": "quantitative", "scale": {"domain": [0, 1]}, "axis": {"orient": "right", "title": "Pulse duration (fs)", "labels": false, "ticks": false, "domain": false, "grid": false, "titleAngle": -90, "titleBaseline": "top", "titlePadding": 92}}}
      }
    ]
  },
  {
    "title": {"text": "c", "dy": 4, "offset": -8},
    "width": 467, "height": 335,
    "resolve": {"scale": {"y": "independent"}},
    "layer": [
      {
        "layer": [
          {
            "data": {"name": "cellsC"},
            "mark": {"type": "rect", "clip": true},
            "encoding": {
              "x": {"field": "x", "type": "quantitative", "bin": {"binned": true, "step": 10}, "scale": {"domain": [15, 200], "nice": false, "zero": false}, "axis": {"title": "Saturation fluence gain (µJ/cm²)", "values": [50, 100, 150, 200], "labelPadding": 6, "titlePadding": 12}},
              "y": {"field": "y", "type": "quantitative", "bin": {"binned": true, "step": 2}, "scale": {"domain": [1, 25], "nice": false, "zero": false}, "axis": {"title": "Sat. fluence SESAM (µJ/cm²)", "values": [5, 10, 15, 20, 25], "labelPadding": 7, "titlePadding": 18}},
              "color": {"field": "v", "type": "quantitative",
                "scale": {"domain": [-0.006, 0.05, 0.1, 0.15, 0.2, 0.25, 0.3, 0.35, 0.4, 0.45, 0.508], "range": ["#8c2a8e", "#2e3b93", "#1b58a7", "#0a7ec6", "#00aeef", "#00a99c", "#00a651", "#8dc63f", "#fff200", "#f58220", "#e31e24"]},
                "legend": {"orient": "none", "legendX": 485, "legendY": 57, "title": null, "direction": "vertical", "gradientLength": 218, "gradientThickness": 13, "gradientStrokeColor": "#333", "gradientStrokeWidth": 1, "values": [0, 0.1, 0.2, 0.3, 0.4, 0.5], "format": ".1f", "labelOffset": 5, "labelFontSize": 20}}
            }
          },
          {
            "data": {"name": "edgeC"},
            "mark": {"type": "area", "color": "white", "opacity": 1},
            "encoding": {"x": {"field": "x", "type": "quantitative"}, "y": {"field": "y", "type": "quantitative"}, "y2": {"datum": 25}}
          },
          {
            "data": {"name": "linesC"},
            "mark": {"type": "line", "color": "white", "strokeWidth": 2},
            "encoding": {"x": {"field": "x", "type": "quantitative"}, "y": {"field": "y", "type": "quantitative"}, "detail": {"field": "id"}}
          },
          {
            "data": {"name": "labelsC"},
            "transform": [{"filter": "length(datum.t) > 3"}],
            "mark": {"type": "point", "shape": "M-1,-0.452H1V0.452H-1Z", "filled": true, "color": "white", "opacity": 1, "size": 1764},
            "encoding": {"x": {"field": "x", "type": "quantitative"}, "y": {"field": "y", "type": "quantitative"}, "angle": {"field": "rot", "type": "quantitative", "scale": null}}
          },
          {
            "data": {"name": "labelsC"},
            "transform": [{"filter": "length(datum.t) <= 3"}],
            "mark": {"type": "point", "shape": "M-1,-0.613H1V0.613H-1Z", "filled": true, "color": "white", "opacity": 1, "size": 961},
            "encoding": {"x": {"field": "x", "type": "quantitative"}, "y": {"field": "y", "type": "quantitative"}, "angle": {"field": "rot", "type": "quantitative", "scale": null}}
          },
          {
            "data": {"name": "labelsC"},
            "mark": {"type": "text", "fontSize": 16, "color": "#1a1a1a"},
            "encoding": {"x": {"field": "x", "type": "quantitative"}, "y": {"field": "y", "type": "quantitative"}, "text": {"field": "t"}, "angle": {"field": "rot", "type": "quantitative", "scale": null}}
          },
          {
            "data": {"values": [{"t": "unstable", "x": 25.4, "y": 19.8}]},
            "mark": {"type": "text", "fontSize": 14, "angle": 292, "color": "#1a1a1a"},
            "encoding": {"x": {"field": "x", "type": "quantitative"}, "y": {"field": "y", "type": "quantitative"}, "text": {"field": "t"}}
          }
        ]
      },
      {
        "data": {"values": [{}]},
        "mark": {"type": "point", "opacity": 0},
        "encoding": {"y": {"datum": 0.5, "type": "quantitative", "scale": {"domain": [0, 1]}, "axis": {"orient": "right", "title": "Output power (W)", "labels": false, "ticks": false, "domain": false, "grid": false, "titleAngle": -90, "titleBaseline": "top", "titlePadding": 92}}}
      }
    ]
  }
]
}
